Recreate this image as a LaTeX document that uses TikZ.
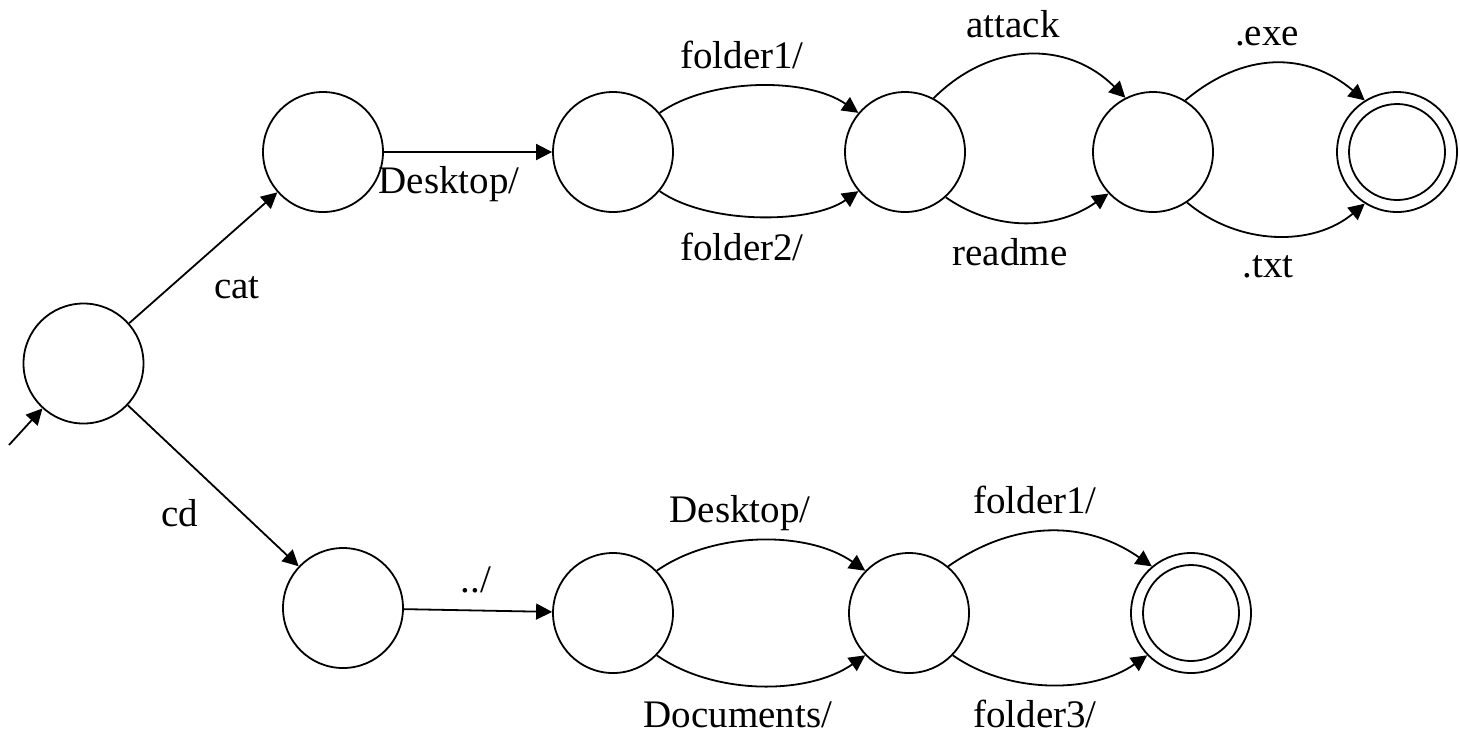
\documentclass[tikz,border=0pt]{standalone}
\usepackage{fontspec}
\setmainfont{Liberation Serif}
\usetikzlibrary{arrows.meta}
\tikzset{
  state/.style={circle, draw, line width=0.9pt, minimum size=60pt, inner sep=0pt},
  accepting/.style={state, path picture={\draw[line width=0.9pt] (path picture bounding box.center) circle (24pt);}},
  trans/.style={line width=0.9pt, -{Triangle[length=8pt,width=8pt]}},
  lbl/.style={anchor=base, inner sep=0pt, font=\fontsize{19.5}{23}\selectfont}
}
\begin{document}
\begin{tikzpicture}[x=0.5pt, y=-0.5pt]
\useasboundingbox (0,0) rectangle (1460,736);

% states
\node[state] (s0) at (83.5,363.5) {};
\node[state] (a1) at (323,152) {};
\node[state] (a2) at (613,152) {};
\node[state] (a3) at (905,152) {};
\node[state] (a4) at (1153,152) {};
\node[accepting] (a5) at (1397,152) {};
\node[state] (b1) at (343,608) {};
\node[state] (b2) at (613,613) {};
\node[state] (b3) at (909,613) {};
\node[accepting] (b4) at (1191,613) {};

% initial arrow
\coordinate (init) at (9,445);
\draw[trans] (init) -- (s0);

% transitions
\draw[trans] (s0) -- (a1);
\draw[trans] (s0) -- (b1);
\draw[trans] (a1) -- (a2);
\draw[trans] (a2.40) to[out=35,in=145,looseness=0.8] (a3.140);
\draw[trans] (a2.-40) to[out=-35,in=-145,looseness=0.75] (a3.-140);
\draw[trans] (a3.62) to[out=45,in=135,looseness=1.08] (a4.117);
\draw[trans] (a3.-48) to[out=-35,in=-145,looseness=0.98] (a4.-137);
\draw[trans] (a4.58) to[out=40,in=140,looseness=1.09] (a5.122);
\draw[trans] (a4.-56) to[out=-40,in=-140,looseness=0.97] (a5.-122);
\draw[trans] (b1) -- (b2);
\draw[trans] (b2.44) to[out=35,in=145,looseness=0.86] (b3.136);
\draw[trans] (b2.-44) to[out=-35,in=-145,looseness=0.86] (b3.-136);
\draw[trans] (b3.50) to[out=35,in=145,looseness=1.02] (b4.130);
\draw[trans] (b3.-44) to[out=-35,in=-145,looseness=0.89] (b4.-136);

% transition labels
\node[lbl] (l-cat) at (237,298) {cat};
\node[lbl] (l-cd) at (180,526) {cd};
\node[lbl] (l-desk1) at (449,193) {Desktop/};
\node[lbl] (l-f1a) at (742,68) {folder1/};
\node[lbl] (l-f2) at (742,260) {folder2/};
\node[lbl] (l-attack) at (1013,37) {attack};
\node[lbl] (l-readme) at (1010,265) {readme};
\node[lbl] (l-exe) at (1267,45) {.exe};
\node[lbl] (l-txt) at (1268,277) {.txt};
\node[lbl] (l-up) at (476,592) {../};
\node[lbl] (l-desk2) at (740,522) {Desktop/};
\node[lbl] (l-docs) at (738,727) {Documents/};
\node[lbl] (l-f1b) at (1035,513) {folder1/};
\node[lbl] (l-f3) at (1035,727) {folder3/};
\end{tikzpicture}
\end{document}
